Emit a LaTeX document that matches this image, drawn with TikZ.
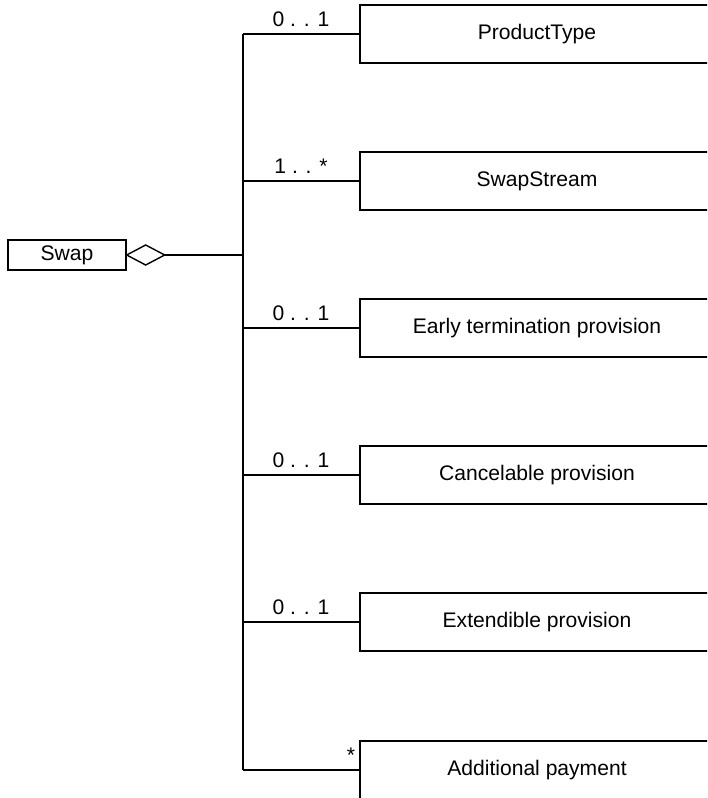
\documentclass[tikz,border=0pt]{standalone}
\usepackage{fontspec}
\setmainfont{Liberation Sans}
\begin{document}
\begin{tikzpicture}[x=0.02cm,y=-0.02cm,line width=0.8pt,line join=miter,font=\fontsize{12}{14}\selectfont,
  cls/.style={draw,rectangle,inner sep=0pt,minimum width=7.08cm,minimum height=1.16cm},
  mult/.style={anchor=base,inner sep=0pt}]
  \clip (0,0) rectangle (707,798);
  % Klasse Swap und Aggregationsraute
  \node[draw,inner sep=0pt,minimum width=2.36cm,minimum height=0.6cm] (swap) at (67,255) {Swap};
  \draw (swap.east) -- ++(19,-10) -- ++(19,10) coordinate (dia) -- ++(-19,10) -- cycle;
  \path
  (243,34) coordinate (bustop)
  (243,255) coordinate (bus)
  (243,770) coordinate (busbot);
  \draw (dia) -- (bus);
  \draw (bustop) -- (busbot);
  % Teile mit Multiplizitaeten
  \foreach \n/\y/\t/\m/\mx in {ptype/34/ProductType/{0 . . 1}/301,
      stream/181/SwapStream/{1 . . *}/301,
      early/328/Early termination provision/{0 . . 1}/301,
      cancel/475/Cancelable provision/{0 . . 1}/301,
      extend/622/Extendible provision/{0 . . 1}/301,
      addpay/770/Additional payment/{*}/351}{
    \node[cls] (\n) at (537,\y) {\t};
    \coordinate (j\n) at (243,\y);
    \draw (j\n) -- (\n.west);
    \node[mult] (m\n) at (\mx,\y-8) {\m};
  }
\end{tikzpicture}
\end{document}
